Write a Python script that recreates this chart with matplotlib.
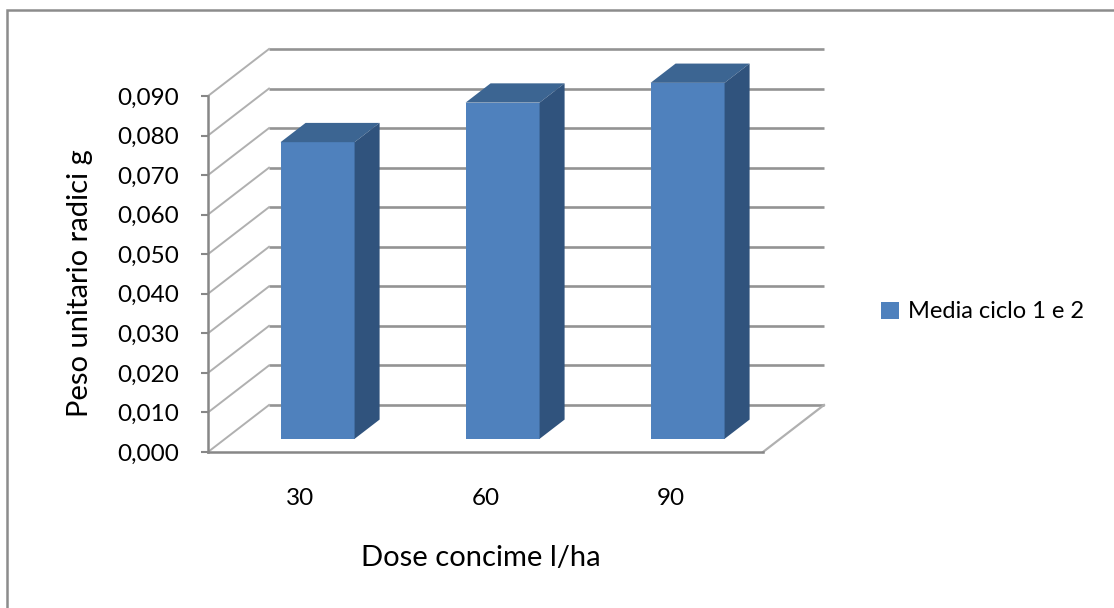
import matplotlib
matplotlib.use("Agg")
import matplotlib.pyplot as plt
from matplotlib.patches import Polygon, Rectangle
from matplotlib.ticker import FuncFormatter
import numpy as np

# ---- data ----
categories = ["30", "60", "90"]
values = [0.075, 0.085, 0.090]
series_name = "Media ciclo 1 e 2"
y_ticks = [0.00, 0.01, 0.02, 0.03, 0.04, 0.05, 0.06, 0.07, 0.08, 0.09]
x_title = "Dose concime l/ha"
y_title = "Peso unitario radici g"

# ---- style ----
FRONT = "#4F81BD"
TOP = "#3C6592"
SIDE = "#30537D"
GRID = "#939393"
WALL = "#b0b0b0"
FONT = "Lato"

W, H = 1114, 608
fig = plt.figure(figsize=(W / 100, H / 100), dpi=100)
fig.patch.set_facecolor("white")

# front plane of the plot area in pixels
L, R, B, T = 208, 763, 452, 96
ax = fig.add_axes([L / W, (H - B) / H, (R - L) / W, (B - T) / H])
ax.set_xlim(0, len(categories))
ax.set_ylim(0, 0.09)
ax.patch.set_alpha(0)

# depth offset (in data units) for the pseudo-3D box
DX = 61 / ((R - L) / len(categories))
DY = 47 / ((B - T) / 0.09)

# back wall gridlines and side wall diagonals
for v in y_ticks:
    ax.plot([DX, len(categories) + DX], [v + DY, v + DY], color=GRID, lw=1.9,
            clip_on=False, zorder=1, solid_capstyle="butt")
    ax.plot([0, DX], [v, v + DY], color=WALL, lw=1.4, clip_on=False, zorder=1)
# floor right edge
ax.plot([len(categories), len(categories) + DX], [0, DY], color=WALL, lw=1.6,
        clip_on=False, zorder=1)

# bars
d0 = 0.28      # front face depth position
dd = 0.41      # bar depth
bw = 0.40      # bar width
xs = np.arange(len(categories)) + 0.5 + d0 * DX
b0 = d0 * DY
ax.bar(xs, values, width=bw, bottom=b0, color=FRONT, label=series_name,
       zorder=3, clip_on=False)
for x, v in zip(xs, values):
    xl, xr = x - bw / 2, x + bw / 2
    top = Polygon([(xl, v + b0), (xr, v + b0), (xr + dd * DX, v + b0 + dd * DY),
                   (xl + dd * DX, v + b0 + dd * DY)], closed=True,
                  facecolor=TOP, edgecolor="none", zorder=3, clip_on=False)
    side = Polygon([(xr, b0), (xr, v + b0), (xr + dd * DX, v + b0 + dd * DY),
                    (xr + dd * DX, b0 + dd * DY)], closed=True,
                   facecolor=SIDE, edgecolor="none", zorder=3, clip_on=False)
    ax.add_patch(top)
    ax.add_patch(side)

# axes styling
for s in ["top", "right"]:
    ax.spines[s].set_visible(False)
for s in ["left", "bottom"]:
    ax.spines[s].set_color("#878787")
    ax.spines[s].set_linewidth(1.8)
ax.set_yticks(y_ticks)
ax.yaxis.set_major_formatter(FuncFormatter(lambda v, p: f"{v:.3f}".replace(".", ",")))
ax.set_xticks(np.arange(len(categories)) + 0.5)
ax.set_xticklabels(categories)
ax.tick_params(axis="y", direction="out", length=5, width=1.5, color="#878787",
               pad=16, labelsize=17.5)
ax.tick_params(axis="x", length=0, pad=26, labelsize=17.5)
for lab in ax.get_xticklabels() + ax.get_yticklabels():
    lab.set_fontfamily(FONT)
    lab.set_color("black")

fig.text(80 / W, 1 - 283 / H, y_title, rotation=90, ha="center", va="center",
         fontsize=21, family=FONT)
fig.text(481 / W, 1 - 558 / H, x_title, ha="center", va="center",
         fontsize=21, family=FONT)

leg = ax.legend(loc="center left", bbox_to_anchor=(881 / W, 1 - 312 / H),
                bbox_transform=fig.transFigure, frameon=False,
                prop={"family": FONT, "size": 17}, handlelength=0.75,
                handleheight=0.75, handletextpad=0.4, borderpad=0,
                borderaxespad=0)

# outer chart border
fig.patches.append(Rectangle((7 / W, -0.1), 1.2, (H - 10) / H + 0.1,
                             transform=fig.transFigure, fill=False,
                             edgecolor="#8c8c8c", lw=1.8))

fig.savefig("out.png", dpi=100)
